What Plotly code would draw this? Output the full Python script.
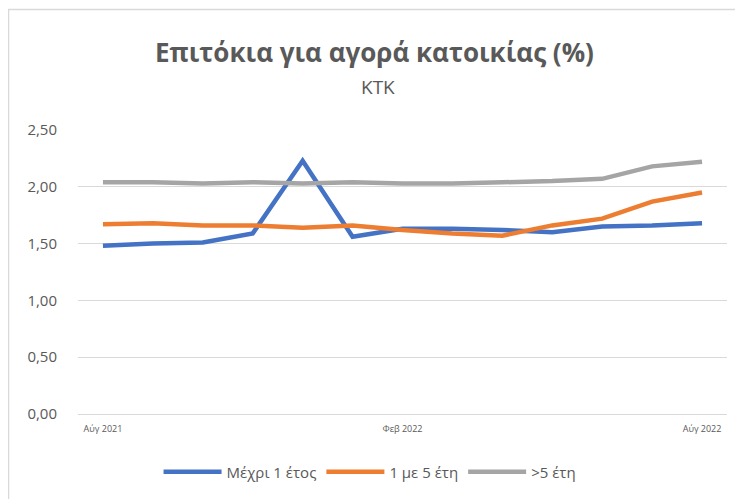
import plotly.graph_objects as go

# μήνες Αύγ 2021 - Αύγ 2022
months = ['Αύγ 2021', 'Σεπ 2021', 'Οκτ 2021', 'Νοε 2021', 'Δεκ 2021', 'Ιαν 2022', 'Φεβ 2022',
          'Μαρ 2022', 'Απρ 2022', 'Μάι 2022', 'Ιούν 2022', 'Ιούλ 2022', 'Αύγ 2022']
tick_labels = ['Αύγ 2021', 'Φεβ 2022', 'Αύγ 2022']

upto_1y = [1.48, 1.50, 1.51, 1.59, 2.23, 1.56, 1.63, 1.63, 1.62, 1.60, 1.65, 1.66, 1.68]
y1_to_5 = [1.67, 1.68, 1.66, 1.66, 1.64, 1.66, 1.62, 1.59, 1.57, 1.66, 1.72, 1.87, 1.95]
over_5y = [2.04, 2.04, 2.03, 2.04, 2.03, 2.04, 2.03, 2.03, 2.04, 2.05, 2.07, 2.18, 2.22]

series = [
    ('Μέχρι 1 έτος', upto_1y, '#4472C4'),
    ('1 με 5 έτη', y1_to_5, '#ED7D31'),
    ('>5 έτη', over_5y, '#A5A5A5'),
]

FONT = 'Open Sans'
GREY = '#595959'

fig = go.Figure()
x_idx = list(range(len(months)))
for name, vals, color in series:
    fig.add_trace(go.Scatter(
        x=x_idx, y=vals, name=name, mode='lines',
        line=dict(color=color, width=4.5),
        customdata=months,
        hovertemplate='%{customdata}: %{y:.2f}<extra>' + name + '</extra>',
    ))

# η σελίδα έχει 8px περιθώριο, οπότε το σχήμα είναι λίγο μικρότερο
fig.update_layout(
    width=735, height=491,
    margin=dict(l=70, r=16, t=122, b=84),
    plot_bgcolor='white', paper_bgcolor='white',
    font=dict(family=FONT, color=GREY),
    separators=',.',
    showlegend=True,
    legend=dict(
        orientation='h', xanchor='center', x=0.45,
        yanchor='middle', y=-0.2, yref='paper',
        font=dict(size=15, color=GREY),
        itemwidth=58,
    ),
    xaxis=dict(
        range=[-0.5, 12.5],
        tickvals=[0, 6, 12], ticktext=tick_labels,
        tickfont=dict(size=9, color=GREY),
        showgrid=False, zeroline=False,
        showline=True, linecolor='#D9D9D9', linewidth=1,
        ticks='', ticklabelstandoff=6,
    ),
    yaxis=dict(
        range=[0, 2.5], dtick=0.5,
        tickformat='.2f',
        tickfont=dict(size=15, color=GREY),
        showgrid=True, gridcolor='#D9D9D9', gridwidth=1,
        zeroline=False, showline=False, ticks='',
        ticklabelstandoff=20,
    ),
)

# τίτλος και υπότιτλος
fig.add_annotation(text='<b>Επιτόκια για αγορά κατοικίας (%)</b>', xref='paper', yref='paper',
                   x=0.457, y=(415 - 52) / 285, xanchor='center', yanchor='middle',
                   showarrow=False, font=dict(size=26, color=GREY, family=FONT))
fig.add_annotation(text='ΚΤΚ', xref='paper', yref='paper',
                   x=0.462, y=(415 - 87) / 285, xanchor='center', yanchor='middle',
                   showarrow=False, font=dict(size=19, color=GREY, family=FONT))

# περίγραμμα γραφήματος
fig.add_shape(type='rect', xref='paper', yref='paper',
              x0=(8.5 - 78) / 649, x1=1.2, y0=-0.6, y1=(415 - 9) / 285,
              line=dict(color='#D9D9D9', width=1.5), layer='below')

fig.write_html('out.html')
